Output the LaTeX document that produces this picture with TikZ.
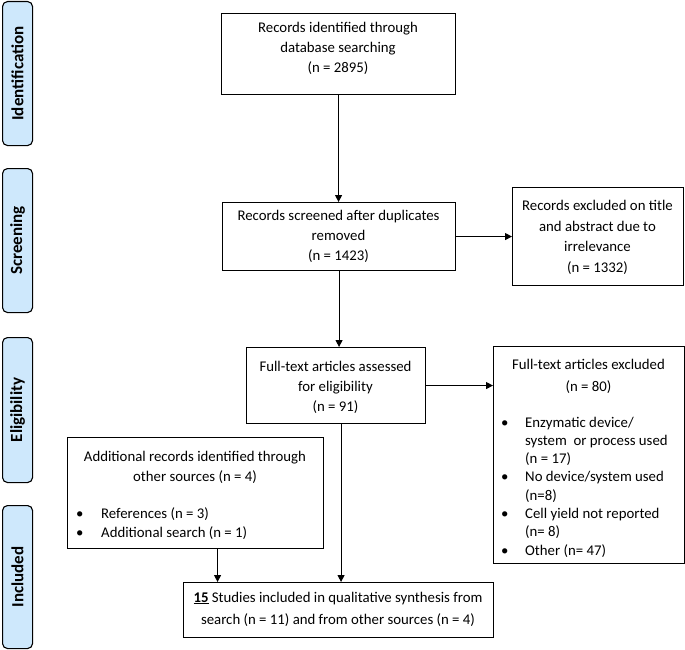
\documentclass[tikz,border=0pt]{standalone}
\usepackage{fontspec}
\setmainfont{Carlito}
\usetikzlibrary{arrows.meta,calc}
\definecolor{phaseblue}{RGB}{206,232,252}
\begin{document}
\begin{tikzpicture}[x=1pt,y=-1pt,
  box/.style={draw, line width=1.1pt, anchor=north west, inner sep=0pt},
  txt/.style={align=center, inner sep=0pt, font=\fontsize{14.8}{20}\selectfont},
  phase/.style={draw, line width=1.1pt, fill=phaseblue, rounded corners=5pt, anchor=north west, inner sep=0pt, minimum width=30},
  phasetxt/.style={rotate=90, inner sep=0pt, font=\fontsize{17}{20}\selectfont\bfseries},
  arr/.style={line width=1.1pt, -{Triangle[length=7pt,width=7pt]}}]
\useasboundingbox (0,0) rectangle (685,650);

% phase bars
\node[phase, minimum height=144] (p1) at (2,1) {};
\node[phasetxt] at (p1.center) {Identification};
\node[phase, minimum height=144] (p2) at (2,168) {};
\node[phasetxt] at (p2.center) {Screening};
\node[phase, minimum height=145] (p3) at (2,337) {};
\node[phasetxt] at (p3.center) {Eligibility};
\node[phase, minimum height=143] (p4) at (2,505) {};
\node[phasetxt] at (p4.center) {Included};

% boxes
\node[box, minimum width=234, minimum height=81] (b1) at (221,13) {};
\node[txt] at (338,48) {Records identified through\\database searching\\(n = 2895)};

\node[box, minimum width=233, minimum height=68] (b2) at (222,202) {};
\node[txt] at (338.5,236) {Records screened after duplicates\\removed\\(n = 1423)};

\node[box, minimum width=171, minimum height=98] (b3) at (512,187) {};
\node[txt, font=\fontsize{14.8}{20.5}\selectfont] at (597.5,237.5) {Records excluded on title\\and abstract due to\\irrelevance\\(n = 1332)};

\node[box, minimum width=179, minimum height=76] (b4) at (246,347) {};
\node[txt] at (335.5,387) {Full-text articles assessed\\for eligibility\\(n = 91)};

\node[box, minimum width=191, minimum height=217] (b5) at (493,346) {};
\node[txt, font=\fontsize{14.8}{22}\selectfont] at (588.5,376) {Full-text articles excluded\\(n = 80)};
\node[anchor=base west, inner sep=0pt, font=\fontsize{14.8}{18.3}\selectfont] at (501,427)
  {\begin{tabular}[t]{@{}p{24pt}@{}l@{}}
   \textbullet & Enzymatic device/\\
               & system\ \ or process used\\
               & (n = 17)\\
   \textbullet & No device/system used\\
               & (n=8)\\
   \textbullet & Cell yield not reported\\
               & (n= 8)\\
   \textbullet & Other (n= 47)
   \end{tabular}};

\node[box, minimum width=256, minimum height=111] (b6) at (67,437) {};
\node[txt] at (195,467) {Additional records identified through\\other sources (n = 4)};
\node[anchor=base west, inner sep=0pt, font=\fontsize{14.8}{19.5}\selectfont] at (76,518)
  {\begin{tabular}[t]{@{}p{25pt}@{}l@{}}
   \textbullet & References (n = 3)\\
   \textbullet & Additional search (n = 1)
   \end{tabular}};

\node[box, minimum width=310, minimum height=55] (b7) at (183,582) {};
\node[txt, font=\fontsize{14.8}{22}\selectfont] at (338,609) {\underline{\textbf{15}} Studies included in qualitative synthesis from\\search (n = 11) and from other sources (n = 4)};

% arrows
\coordinate (s4) at ($(b4.south)+(5,0)$);
\coordinate (s6) at ($(b6.south)+(22,0)$);
\draw[arr] (b1.south) -- (b1.south |- b2.north);
\draw[arr] (b2.east) -- (b2.east -| b3.west);
\draw[arr] (b2.south) -- (b2.south |- b4.north);
\draw[arr] (b4.east) -- (b4.east -| b5.west);
\draw[arr] (s4) -- (s4 |- b7.north);
\draw[arr] (s6) -- (s6 |- b7.north);
\end{tikzpicture}
\end{document}
